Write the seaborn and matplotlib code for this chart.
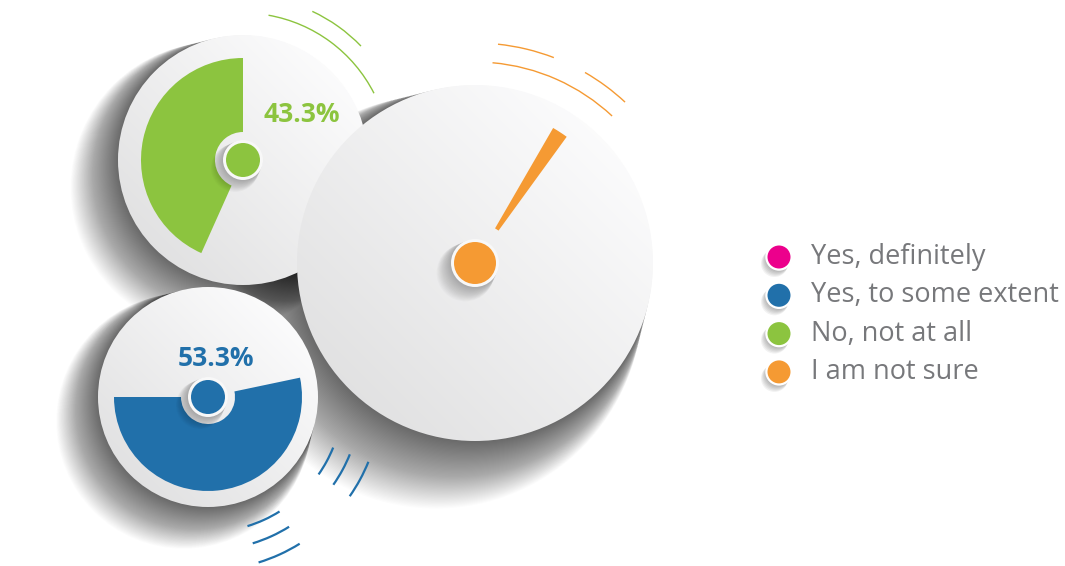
import numpy as np
import pandas as pd
import seaborn as sns
import matplotlib.pyplot as plt
from matplotlib.patches import Circle, Wedge, Arc

# survey answers (share of respondents, %)
categories = ["Yes, definitely", "Yes, to some extent", "No, not at all", "I am not sure"]
shares = [0.0, 53.3, 43.3, 3.3]
colors = ["#ec008c", "#2170aa", "#8cc43f", "#f59a33"]
pct_labels = ["", "53.3%", "43.3%", ""]

W, H = 1065, 566

# dial layout in pixel space (image coords, y down)
dials = {
    "Yes, to some extent": dict(c=(208, 397), R=110, r=94, hole=27, dot=17, start=180,
                                label=(216, 358), z=1),
    "No, not at all": dict(c=(243, 160), R=125, r=102, hole=28, dot=17, start=90,
                           label=(302, 114), z=2),
    "I am not sure": dict(c=(475, 263), R=178, r=156, hole=40, dot=21, start=54,
                          needle=True, label=None, z=3),
}
# decorative motion arcs: (radius, from, to) in degrees, counterclockwise on screen
motion_arcs = {
    "No, not at all": [(147, 27, 80), (164, 44, 65)],
    "I am not sure": [(220, 69, 84), (201, 47, 85), (220, 47, 60)],
    "Yes, to some extent": [(135, -35, -22), (153, -35, -22), (173, -35, -22),
                            (135, -73, -58), (153, -73, -58), (173, -73, -58)],
}

sns.set_theme(style="white")
plt.rcParams['font.family'] = ['Open Sans', 'DejaVu Sans']

fig = plt.figure(figsize=(W / 100, H / 100), dpi=100)
ax = fig.add_axes([0, 0, 1, 1])
ax.set_xlim(0, W)
ax.set_ylim(H, 0)
ax.set_aspect('equal')
ax.axis('off')


def wedge(c, r, a1, a2, width=None, **kw):
    # y axis is inverted, so flip screen angles
    return Wedge(c, r, -a2, -a1, width=width, **kw)


def soft_shadow(c, R, z, strength=1.0, n=60, off=0.22, grow=0.16):
    cx, cy = c
    for k in range(n):
        t = (k + 1) / n
        ax.add_patch(Circle((cx - off * R * t, cy + off * R * t), R * (1 + grow * t),
                            color='black', alpha=0.0105 * strength, lw=0, zorder=z))


def gradient_disc(c, R, z, light=0.985, dark=0.885):
    cx, cy = c
    n = 200
    xs = np.linspace(cx - R, cx + R, n)
    ys = np.linspace(cy - R, cy + R, n)
    xx, yy = np.meshgrid(xs, ys)
    # lighter towards upper right
    t = ((xx - cx) - (yy - cy)) / (2 * R * 1.414) + 0.5
    v = dark + (light - dark) * np.clip(t, 0, 1)
    img = np.clip(np.dstack([v, v, v * 1.003]), 0, 1)
    im = ax.imshow(img, extent=(cx - R, cx + R, cy + R, cy - R), origin='upper',
                   zorder=z, interpolation='bilinear')
    im.set_clip_path(Circle(c, R, transform=ax.transData))


share_of = dict(zip(categories, shares))
color_of = dict(zip(categories, colors))
label_of = dict(zip(categories, pct_labels))

# all disc shadows sit on the background, below every disc
for name, d in dials.items():
    soft_shadow(d['c'], d['R'], 1)

for name, d in dials.items():
    base = d['z'] * 10
    col = color_of[name]
    gradient_disc(d['c'], d['R'], base + 1)
    span = share_of[name] / 100 * 360
    if d.get('needle'):
        span *= 0.5  # drawn as a thin needle
    ax.add_patch(wedge(d['c'], d['r'], d['start'], d['start'] + span,
                       width=d['r'] - d['hole'], color=col, lw=0, zorder=base + 2))
    # centre knob
    soft_shadow(d['c'], d['dot'] + 3, base + 3, strength=2.0, n=15, off=0.4, grow=0.2)
    ax.add_patch(Circle(d['c'], d['dot'] + 3, color='#f8f8f8', lw=0, zorder=base + 4))
    ax.add_patch(Circle(d['c'], d['dot'], color=col, lw=0, zorder=base + 5))
    for (ra, a1, a2) in motion_arcs[name]:
        lw = 1.6 if name == "Yes, to some extent" else 1.0
        ax.add_patch(Arc(d['c'], 2 * ra, 2 * ra, theta1=-a2, theta2=-a1,
                         color=col, lw=lw, zorder=base + 6))
    if d['label'] is not None:
        ax.text(d['label'][0], d['label'][1], label_of[name], color=col,
                fontsize=19, fontweight='bold', ha='center', va='center',
                zorder=base + 7)

# legend built from the category table
leg = pd.DataFrame({'category': categories,
                    'x': [779] * len(categories),
                    'y': [257 + 38.3 * i for i in range(len(categories))]})
for k in range(6):
    sns.scatterplot(x=leg['x'] - 1 - k * 0.7, y=leg['y'] + 2 + k * 0.9, color='#000000',
                    s=320 + 12 * k, alpha=0.05, edgecolor='none', legend=False, ax=ax,
                    zorder=50)
sns.scatterplot(data=leg, x='x', y='y', hue='category', palette=colors, s=330,
                edgecolor='white', linewidth=1.6, legend=False, ax=ax, zorder=51)
for _, row in leg.iterrows():
    ax.text(row['x'] + 32, row['y'], row['category'], color='#77787b',
            fontsize=19.5, ha='left', va='center', zorder=52)

ax.set_xlim(0, W)
ax.set_ylim(H, 0)
ax.axis('off')
fig.savefig('out.png', dpi=100, facecolor='white')
